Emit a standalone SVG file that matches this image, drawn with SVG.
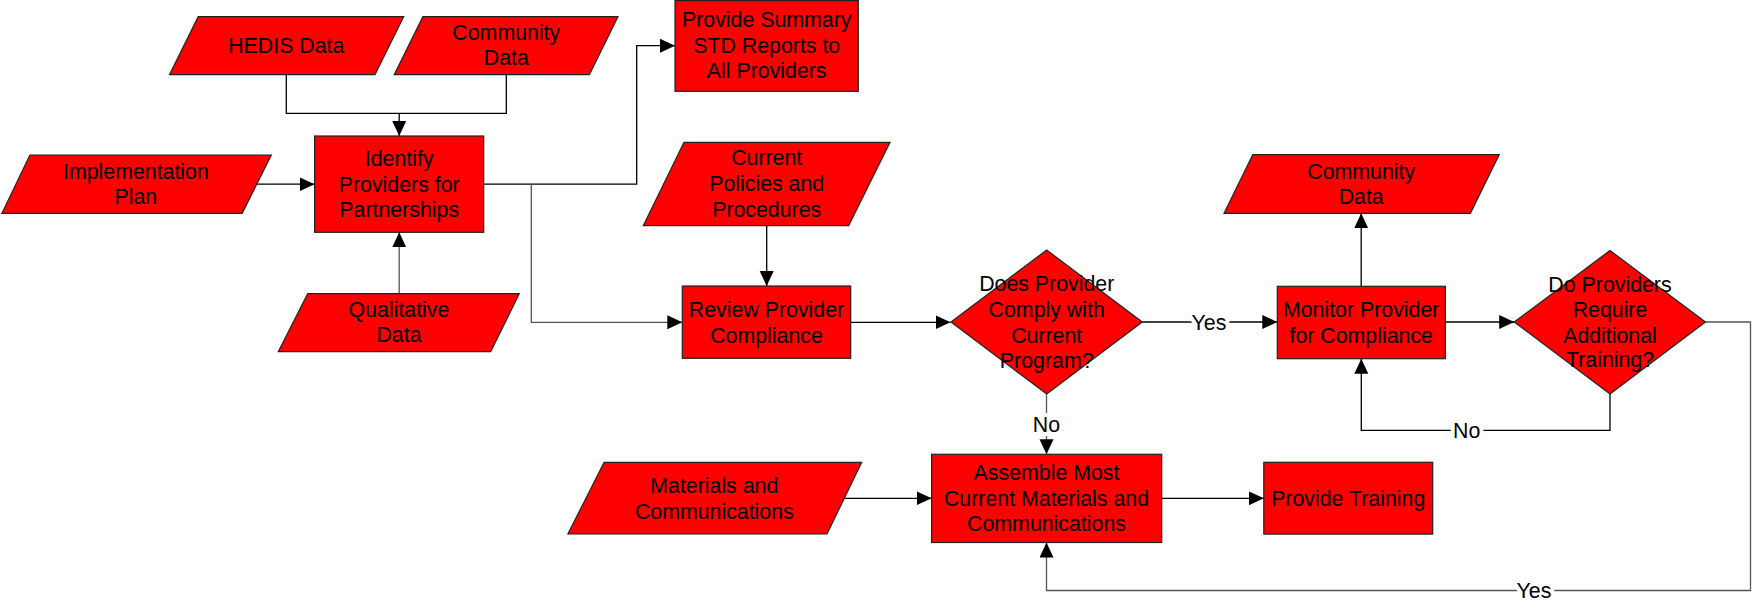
<svg xmlns="http://www.w3.org/2000/svg" width="1754" height="600" viewBox="0 0 1754 600">
<style>
.shape{fill:#ff0000;stroke:#222;stroke-width:1.2}
.t{font-family:"Liberation Sans",Arial,sans-serif;font-size:21.33px;fill:#000;text-anchor:middle}
.lbl{font-family:"Liberation Sans",Arial,sans-serif;font-size:21.33px;fill:#000;text-anchor:middle;stroke:#fff;stroke-width:8;paint-order:stroke;stroke-linejoin:round}
.c{fill:none;stroke:#000;stroke-width:1.3}
.g{fill:none;stroke:#555;stroke-width:1.3}
.a{marker-end:url(#arr)}
</style>
<defs>
<marker id="arr" markerUnits="userSpaceOnUse" markerWidth="16" markerHeight="15" refX="15" refY="7" orient="auto">
<path d="M0,0 L15,7 L0,14 Z" fill="#000"/>
</marker>
</defs>
<rect width="1754" height="600" fill="#fff"/>
<g id="connectors">
<polyline class="c" points="286.3,74.7 286.3,113.3 506.3,113.3 506.3,74.7"/>
<line class="c a" x1="399.2" y1="113.3" x2="399.2" y2="136"/>
<line class="c a" x1="257" y1="184.2" x2="314.6" y2="184.2"/>
<line class="g a" x1="399.2" y1="293.7" x2="399.2" y2="232.3"/>
<polyline class="c a" points="483.7,184.2 636.7,184.2 636.7,45.7 675,45.7"/>
<polyline class="g a" points="531.3,184.2 531.3,322.3 682.3,322.3"/>
<line class="c a" x1="766.7" y1="225.7" x2="766.7" y2="286"/>
<line class="c a" x1="850.7" y1="322.3" x2="950.5" y2="322.3"/>
<line class="c a" x1="1142.3" y1="322" x2="1277.3" y2="322"/>
<line class="c a" x1="1361.2" y1="286.3" x2="1361.2" y2="213.3"/>
<line class="c a" x1="1445.4" y1="322" x2="1514.2" y2="322"/>
<polyline class="c a" points="1610,394 1610,430.3 1361.3,430.3 1361.3,358.7"/>
<polyline class="g a" points="1705.5,322 1750.5,322 1750.5,590.5 1046.5,590.5 1046.5,542.6"/>
<line class="g a" x1="1046.5" y1="394" x2="1046.5" y2="454.3"/>
<line class="c a" x1="844.4" y1="498.3" x2="931.6" y2="498.3"/>
<line class="c a" x1="1161.7" y1="498.3" x2="1263.8" y2="498.3"/>
<text class="lbl" x="1209" y="329.5">Yes</text>
<text class="lbl" x="1466.7" y="437.8">No</text>
<text class="lbl" x="1046.5" y="431.8">No</text>
<text class="lbl" x="1534" y="598">Yes</text>
</g>
<g id="hedis">
<polygon class="shape" points="198.2,16.7 403.7,16.7 375,74.7 169.5,74.7"/>
<text class="t" x="286.3" y="53">HEDIS Data</text>
</g>
<g id="community1">
<polygon class="shape" points="422.9,16.7 618,16.7 589.4,74.7 394.2,74.7"/>
<text class="t" x="506.3" y="39.8">Community</text>
<text class="t" x="506.3" y="65">Data</text>
</g>
<g id="identify">
<rect class="shape" x="314.6" y="136" width="169.1" height="96.3"/>
<text class="t" x="399.2" y="165.8">Identify</text>
<text class="t" x="399.2" y="191.5">Providers for</text>
<text class="t" x="399.2" y="217">Partnerships</text>
</g>
<g id="implementation">
<polygon class="shape" points="29.9,155 271.3,155 242.2,213.3 1.9,213.3"/>
<text class="t" x="135.9" y="178.5">Implementation</text>
<text class="t" x="135.9" y="204.2">Plan</text>
</g>
<g id="qualitative">
<polygon class="shape" points="307.7,293.7 519.3,293.7 490.7,351.7 278.3,351.7"/>
<text class="t" x="399" y="316.5">Qualitative</text>
<text class="t" x="399" y="341.5">Data</text>
</g>
<g id="summary">
<rect class="shape" x="675" y="0.6" width="183.3" height="90.7"/>
<text class="t" x="766.7" y="26.5">Provide Summary</text>
<text class="t" x="766.7" y="52.5">STD Reports to</text>
<text class="t" x="766.7" y="78.2">All Providers</text>
</g>
<g id="policies">
<polygon class="shape" points="684,142.3 890,142.3 848.7,225.7 643.3,225.7"/>
<text class="t" x="766.7" y="165.2">Current</text>
<text class="t" x="766.7" y="190.5">Policies and</text>
<text class="t" x="766.7" y="216.5">Procedures</text>
</g>
<g id="review">
<rect class="shape" x="682.3" y="286" width="168.4" height="72.3"/>
<text class="t" x="766.5" y="316.5">Review Provider</text>
<text class="t" x="766.5" y="343.2">Compliance</text>
</g>
<g id="comply">
<polygon class="shape" points="1046.7,250 1142.3,322 1046.7,394 951,322"/>
<text class="t" x="1046.7" y="290.8">Does Provider</text>
<text class="t" x="1046.7" y="316.8">Comply with</text>
<text class="t" x="1046.7" y="342.5">Current</text>
<text class="t" x="1046.7" y="367.5">Program?</text>
</g>
<g id="monitor">
<rect class="shape" x="1277.3" y="286.3" width="168.1" height="72.4"/>
<text class="t" x="1361.2" y="316.5">Monitor Provider</text>
<text class="t" x="1361.2" y="342.5">for Compliance</text>
</g>
<g id="community2">
<polygon class="shape" points="1252.8,154.7 1499.2,154.7 1470.4,213.3 1224,213.3"/>
<text class="t" x="1361.2" y="179.2">Community</text>
<text class="t" x="1361.2" y="203.5">Data</text>
</g>
<g id="training-decision">
<polygon class="shape" points="1610,250.5 1705.5,322 1610,394 1514.2,322"/>
<text class="t" x="1610" y="291.5">Do Providers</text>
<text class="t" x="1610" y="316.5">Require</text>
<text class="t" x="1610" y="342.5">Additional</text>
<text class="t" x="1610" y="366.8">Training?</text>
</g>
<g id="materials">
<polygon class="shape" points="604.1,462.3 861.7,462.3 827,534 567.9,534"/>
<text class="t" x="714.3" y="492.5">Materials and</text>
<text class="t" x="714.3" y="518.5">Communications</text>
</g>
<g id="assemble">
<rect class="shape" x="931.6" y="454.3" width="230.1" height="88.2"/>
<text class="t" x="1046.5" y="480.2">Assemble Most</text>
<text class="t" x="1046.5" y="505.8">Current Materials and</text>
<text class="t" x="1046.5" y="530.8">Communications</text>
</g>
<g id="provide-training">
<rect class="shape" x="1263.8" y="462.3" width="168.9" height="71.8"/>
<text class="t" x="1348.2" y="505.5">Provide Training</text>
</g>
</svg>
